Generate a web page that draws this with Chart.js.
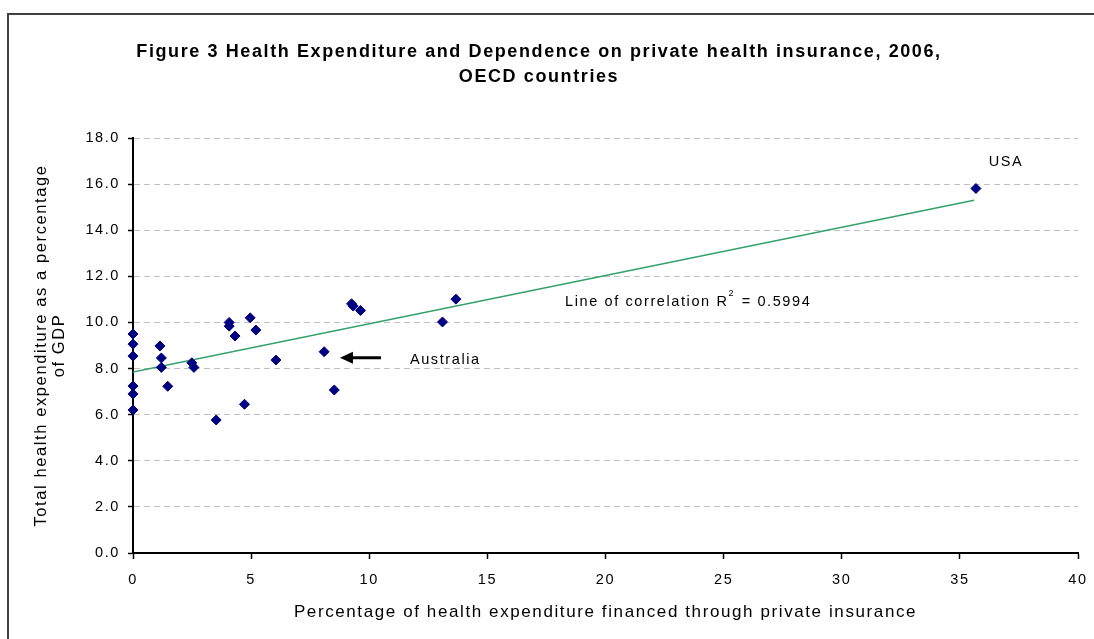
<!DOCTYPE html>
<html>
<head>
<meta charset="utf-8">
<title>Figure 3 Health Expenditure and Dependence on private health insurance</title>
<script src="https://cdn.jsdelivr.net/npm/chart.js@4/dist/chart.umd.min.js"></script>
<style>
  html, body { margin: 0; padding: 0; background: #fff; }
  #wrap { width: 1094px; height: 639px; position: relative; }
</style>
</head>
<body>
<div id="wrap"><canvas id="chart"></canvas></div>
<script>
// Share of health spending financed through private insurance (%)
const privateShare = [0, 0, 0, 0, 0, 0, 1.14, 1.2, 1.2, 1.47, 2.49, 2.58, 3.52, 4.07, 4.07, 4.32, 4.96, 5.2,
  4.72, 6.05, 8.09, 8.52, 9.25, 9.32, 9.63, 13.1, 13.67, 35.68];
// Total health expenditure (% of GDP)
const healthSpend = [9.5, 9.06, 8.54, 7.24, 6.9, 6.2, 8.98, 8.46, 8.05, 7.23, 8.25, 8.05, 5.77, 10.0, 9.84, 9.41, 10.2, 9.67,
  6.45, 8.37, 8.73, 7.07, 10.81, 10.71, 10.52, 10.02, 11.01, 15.81];

// Trend line end points
const trendX = [0, 35.6];
const trendY = [7.85, 15.3];

// Tick labels
const xTickValues = [0, 5, 10, 15, 20, 25, 30, 35, 40];
const yTickValues = [0, 2, 4, 6, 8, 10, 12, 14, 16, 18];

const FONT = '"Liberation Sans", Arial, sans-serif';
const SPACING = "1.6px";

const points = privateShare.map((x, i) => ({ x, y: healthSpend[i] }));
const trend = trendX.map((x, i) => ({ x, y: trendY[i] }));

// Frame + letter spacing (the original text is quite loosely set)
const frame = {
  id: "frame",
  beforeUpdate(chart) {
    chart.ctx.letterSpacing = SPACING;
  },
  beforeDraw(chart) {
    const ctx = chart.ctx;
    ctx.letterSpacing = SPACING;
    ctx.save();
    ctx.fillStyle = "#fff";
    ctx.fillRect(0, 0, chart.width, chart.height);
    ctx.strokeStyle = "#404040";
    ctx.lineWidth = 2;
    ctx.strokeRect(8, 14, chart.width + 20, chart.height + 20);
    ctx.restore();
  },
};

// Text notes and the arrow pointing at Australia
const notes = {
  id: "notes",
  afterDatasetsDraw(chart) {
    const { ctx } = chart;
    const x = chart.scales.x;
    const y = chart.scales.y;
    const base = "14.5px " + FONT;
    ctx.save();
    ctx.letterSpacing = SPACING;
    ctx.fillStyle = "#000";
    ctx.textBaseline = "middle";
    ctx.font = base;

    ctx.textAlign = "center";
    ctx.fillText("USA", x.getPixelForValue(36.95), y.getPixelForValue(16.94));

    ctx.textAlign = "left";
    ctx.fillText("Australia", x.getPixelForValue(11.72), y.getPixelForValue(8.37));

    // correlation label with superscript 2
    let px = x.getPixelForValue(18.29);
    const py = y.getPixelForValue(10.9);
    const head = "Line of correlation R";
    ctx.fillText(head, px, py);
    px += ctx.measureText(head).width;
    ctx.font = "9px " + FONT;
    ctx.fillText("2", px, py - 8);
    px += ctx.measureText("2").width + 1;
    ctx.font = base;
    ctx.fillText(" = 0.5994", px, py);

    // arrow
    const ay = y.getPixelForValue(8.47);
    const tip = x.getPixelForValue(8.76);
    const tail = x.getPixelForValue(10.5);
    ctx.strokeStyle = "#000";
    ctx.lineWidth = 3;
    ctx.beginPath();
    ctx.moveTo(tail, ay);
    ctx.lineTo(tip + 8, ay);
    ctx.stroke();
    ctx.beginPath();
    ctx.moveTo(tip, ay);
    ctx.lineTo(tip + 13, ay - 6);
    ctx.lineTo(tip + 13, ay + 6);
    ctx.closePath();
    ctx.fill();
    ctx.restore();
  },
};

Chart.defaults.font.family = FONT;
Chart.defaults.color = "#000";

new Chart(document.getElementById("chart"), {
  type: "scatter",
  data: {
    datasets: [
      {
        label: "OECD countries",
        data: points,
        pointStyle: "rectRot",
        pointRadius: 5,
        backgroundColor: "#000080",
        borderColor: "#000080",
        borderWidth: 1,
        clip: false,
      },
      {
        label: "Line of correlation",
        type: "line",
        data: trend,
        borderColor: "#33a06e",
        borderWidth: 1.6,
        pointRadius: 0,
        fill: false,
      },
    ],
  },
  options: {
    responsive: true,
    maintainAspectRatio: false,
    animation: false,
    events: [],
    layout: { padding: { left: 0, right: 16, top: 0, bottom: 0 } },
    plugins: {
      legend: { display: false },
      tooltip: { enabled: false },
      title: {
        display: true,
        text: [
          "Figure 3 Health Expenditure and Dependence on private health insurance, 2006,",
          "OECD countries",
        ],
        color: "#000",
        font: { size: 18, weight: "bold", lineHeight: 25 / 18 },
        padding: { top: 40, bottom: 48 },
      },
    },
    scales: {
      x: {
        type: "linear",
        min: 0,
        max: 40,
        afterBuildTicks: (s) => { s.ticks = xTickValues.map((v) => ({ value: v })); },
        afterFit: (s) => { s.height = 86; s.paddingLeft = 0; s.paddingRight = 0; },
        ticks: { font: { size: 14.5 }, padding: 12, maxRotation: 0 },
        grid: {
          drawOnChartArea: false,
          tickLength: 6,
          tickColor: "#000",
          tickWidth: 1.5,
        },
        border: { color: "#000", width: 2 },
        title: {
          display: true,
          text: "Percentage of health expenditure financed through private insurance",
          font: { size: 17, lineHeight: 1.2 },
          padding: { top: 0, bottom: 16 },
        },
      },
      y: {
        type: "linear",
        min: 0,
        max: 18,
        afterBuildTicks: (s) => { s.ticks = yTickValues.map((v) => ({ value: v })); },
        afterFit: (s) => { s.width = 133; },
        ticks: { font: { size: 14.5 }, padding: 8, callback: (v) => Number(v).toFixed(1) },
        grid: {
          color: "#c0c0c0",
          lineWidth: 1,
          tickLength: 5,
          tickColor: "#000",
          tickWidth: 1.5,
          tickBorderDash: [],
        },
        border: { color: "#000", width: 2, dash: [6, 4] },
        title: {
          display: true,
          text: ["Total health expenditure as a percentage", "of GDP"],
          font: { size: 16.5, lineHeight: 18 / 16.5 },
          padding: { top: 32, bottom: 0 },
        },
      },
    },
  },
  plugins: [frame, notes],
});
</script>
</body>
</html>
